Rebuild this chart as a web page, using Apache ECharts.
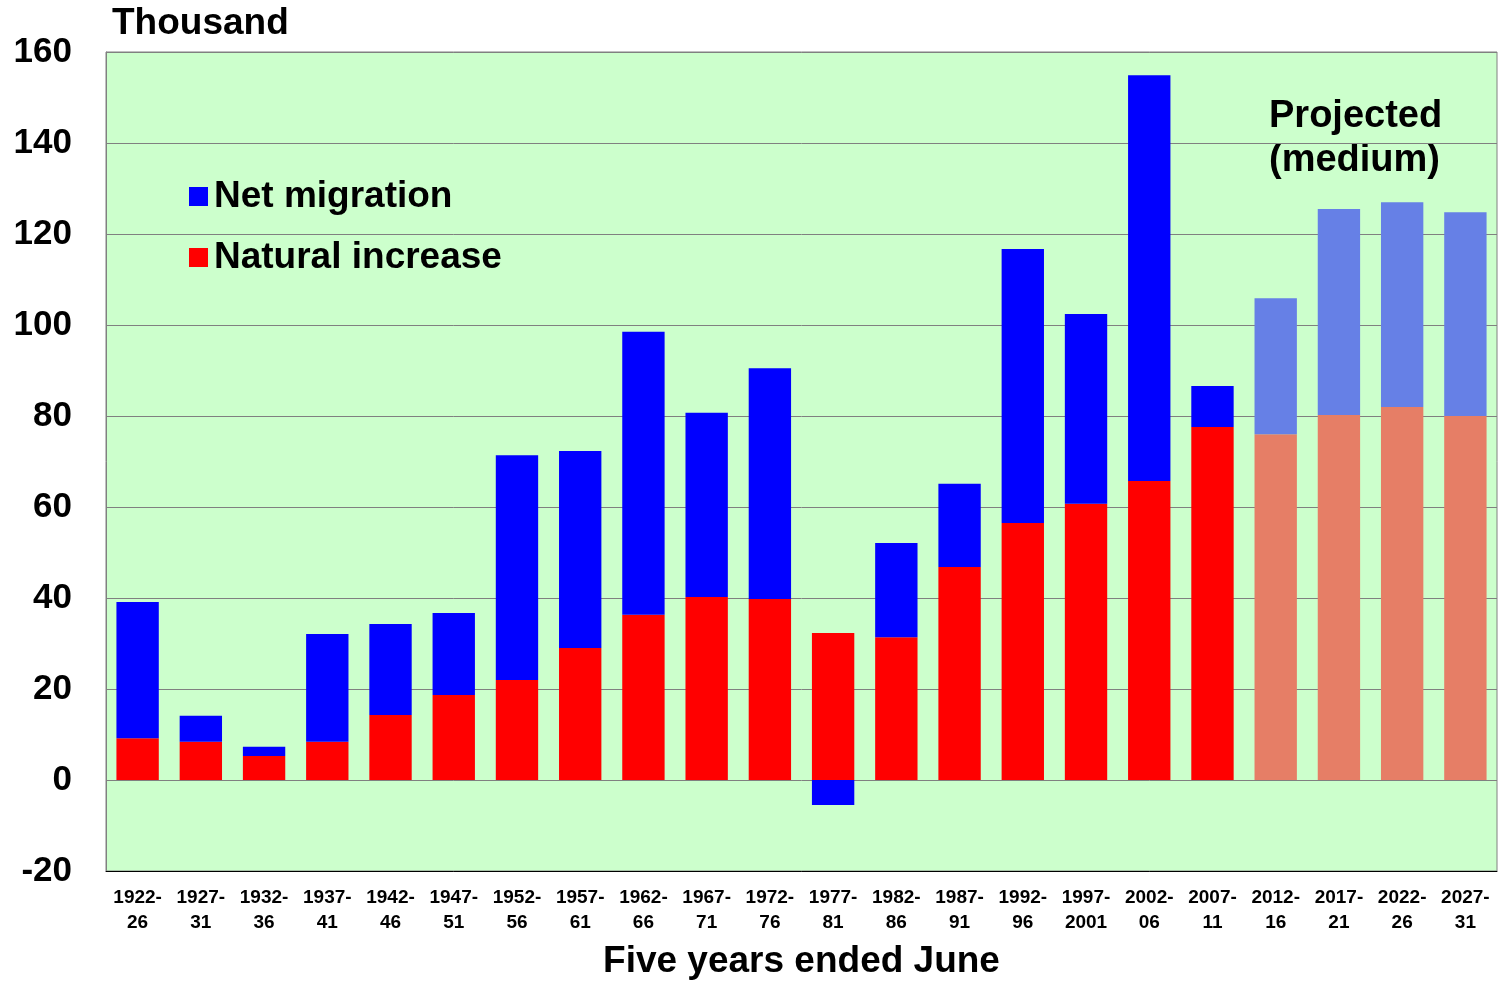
<!DOCTYPE html>
<html>
<head>
<meta charset="utf-8">
<script src="https://cdn.jsdelivr.net/npm/echarts@6/dist/echarts.min.js"></script>
<style>
  html, body { margin: 0; padding: 0; background: #fff; }
  #chart { width: 1499px; height: 981px; }
</style>
</head>
<body>
<div id="chart"></div>
<script>
// 五年期（截至6月）
var periods = ["1922-\n26", "1927-\n31", "1932-\n36", "1937-\n41", "1942-\n46", "1947-\n51",
  "1952-\n56", "1957-\n61", "1962-\n66", "1967-\n71", "1972-\n76", "1977-\n81",
  "1982-\n86", "1987-\n91", "1992-\n96", "1997-\n2001", "2002-\n06", "2007-\n11",
  "2012-\n16", "2017-\n21", "2022-\n26", "2027-\n31"];
var naturalIncrease = [9.2, 8.4, 5.3, 8.4, 14.3, 18.7, 22.0, 29.0, 36.3, 40.2, 39.8, 32.3,
  31.4, 46.8, 56.5, 60.7, 65.7, 77.6, 76.0, 80.2, 82.0, 80.0];
var netMigration = [29.9, 5.7, 2.0, 23.7, 20.0, 18.0, 49.4, 43.3, 62.2, 40.5, 50.7, -5.5,
  20.7, 18.3, 60.2, 41.7, 89.2, 9.0, 29.9, 45.3, 45.0, 44.8];
var firstProjected = 18; // 2012-16 起为预测值
var yTicks = [-20, 0, 20, 40, 60, 80, 100, 120, 140, 160];

var chart = echarts.init(document.getElementById("chart"));

function toItems(arr, color, projColor) {
  return arr.map(function (v, i) {
    return { value: v, itemStyle: { color: i >= firstProjected ? projColor : color } };
  });
}

var font = "'Liberation Sans', Arial, sans-serif";

var option = {
  animation: false,
  textStyle: { fontFamily: font },
  grid: {
    left: 106, right: 2, top: 52, bottom: 110,
    outerBoundsMode: "none",
    containLabel: false,
    show: true,
    backgroundColor: "#ccffcc",
    borderColor: "#808080",
    borderWidth: 1
  },
  legend: {
    data: ["Net migration", "Natural increase"],
    orient: "vertical",
    left: 184,
    top: 173,
    itemWidth: 19,
    itemHeight: 19,
    itemGap: 24,
    icon: "rect",
    textStyle: { fontSize: 37, fontWeight: "bold", color: "#000", fontFamily: font, padding: [0, 0, 0, 1] }
  },
  xAxis: {
    type: "category",
    data: periods,
    axisLine: { onZero: false, lineStyle: { color: "#000", width: 1 } },
    axisTick: { show: false },
    axisLabel: {
      interval: 0,
      fontSize: 19,
      fontWeight: "bold",
      color: "#000",
      lineHeight: 25,
      margin: 14,
      fontFamily: font
    },
    name: "Five years ended June",
    nameLocation: "middle",
    nameGap: 72,
    nameTextStyle: { fontSize: 37, fontWeight: "bold", color: "#000", fontFamily: font }
  },
  yAxis: {
    type: "value",
    min: -20,
    max: 160,
    interval: 20,
    axisLine: { show: true, lineStyle: { color: "#808080" } },
    axisTick: { show: false },
    splitLine: { lineStyle: { color: "#808080", width: 1 } },
    axisLabel: {
      fontSize: 35,
      fontWeight: "bold",
      color: "#000",
      margin: 34,
      fontFamily: font,
      formatter: function (v) { return yTicks.indexOf(v) >= 0 ? String(v) : ""; }
    }
  },
  graphic: [
    {
      type: "text", left: 112, top: 5,
      style: { text: "Thousand", fontSize: 37, fontWeight: "bold", fill: "#000", fontFamily: font }
    },
    {
      type: "text", left: 1269, top: 95,
      style: { text: "Projected\n(medium)", fontSize: 38, fontWeight: "bold", fill: "#000",
        lineHeight: 44, align: "center", fontFamily: font }
    }
  ],
  series: [
    {
      name: "Natural increase",
      type: "bar",
      stack: "total",
      barCategoryGap: "33%",
      itemStyle: { color: "#ff0000" },
      data: toItems(naturalIncrease, "#ff0000", "#e67e66")
    },
    {
      name: "Net migration",
      type: "bar",
      stack: "total",
      barCategoryGap: "33%",
      itemStyle: { color: "#0000ff" },
      data: toItems(netMigration, "#0000ff", "#6680e6")
    }
  ]
};

chart.setOption(option);
</script>
</body>
</html>
